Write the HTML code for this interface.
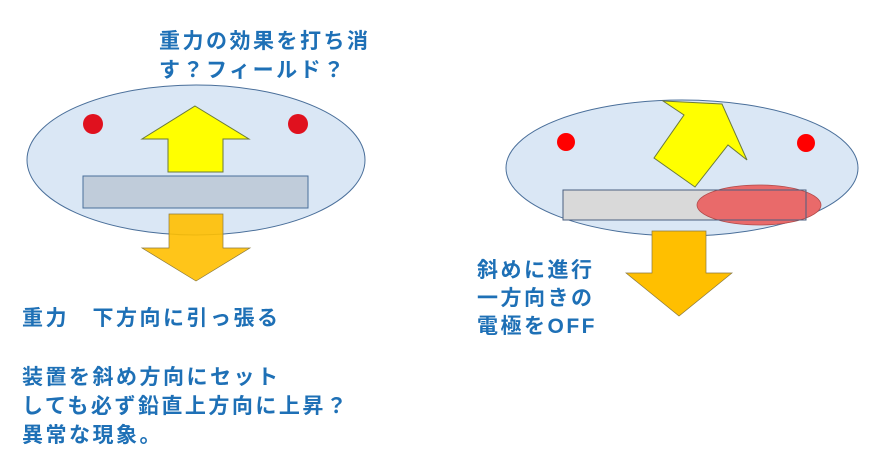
<!DOCTYPE html>
<html><head><meta charset="utf-8"><style>
body{margin:0;width:882px;height:466px;background:#fff;position:relative;overflow:hidden}
.t{position:absolute;font-family:"Liberation Sans","Noto Sans CJK JP",sans-serif;font-weight:bold;font-size:21px;color:#1e70b6;letter-spacing:2.5px;white-space:nowrap;line-height:29px}
svg{position:absolute;left:0;top:0}
</style></head><body>
<svg width="882" height="466">
<ellipse cx="196" cy="160" rx="169" ry="75" fill="#dae7f5" stroke="#4a6f9a" stroke-width="1"/>
<circle cx="93" cy="124" r="10" fill="#e0111e"/>
<circle cx="298" cy="124" r="10" fill="#e0111e"/>
<polygon points="195,106 249,139 223,139 223,172 168,172 168,139 142,139" fill="#ffff00" stroke="#6b7a3a" stroke-width="1"/>
<rect x="83" y="176" width="225" height="32" fill="#c0ccda" stroke="#4a6f9a" stroke-width="1"/>
<polygon points="169,214 223,214 223,248 250,248 196,281 142,248 169,248" fill="#ffbf00" fill-opacity="0.9" stroke="#8a7a40" stroke-width="0.7"/>
<ellipse cx="682" cy="168" rx="176" ry="68" fill="#dae7f5" stroke="#4a6f9a" stroke-width="1"/>
<circle cx="566" cy="142" r="9" fill="#ff0000"/>
<circle cx="806" cy="143" r="9" fill="#ff0000"/>
<polygon points="663,101 722,104 747,160 728,145 695,187 654,158 684,115" fill="#ffff00" stroke="#6b7a3a" stroke-width="1"/>
<rect x="563" y="190" width="243" height="30" fill="#d9d9d9" stroke="#4a6f9a" stroke-width="1"/>
<ellipse cx="759" cy="205" rx="62" ry="20" fill="#e96a6a" stroke="#b04a4a" stroke-width="0.8"/>
<rect x="563" y="190" width="243" height="30" fill="none" stroke="#4a5f80" stroke-width="1"/>
<polygon points="652,231 706,231 706,273 732,273 679,316 626,273 652,273" fill="#ffbf00" stroke="#8a7a40" stroke-width="0.7"/>
</svg>
<div class="t" style="left:159px;top:27px">重力の効果を打ち消<br>す？フィールド？</div>
<div class="t" style="left:22px;top:304px">重力　下方向に引っ張る</div>
<div class="t" style="left:22px;top:363px">装置を斜め方向にセット<br>しても必ず鉛直上方向に上昇？<br>異常な現象。</div>
<div class="t" style="left:477px;top:257px;line-height:28px">斜めに進行<br>一方向きの<br>電極をOFF</div>
</body></html>
